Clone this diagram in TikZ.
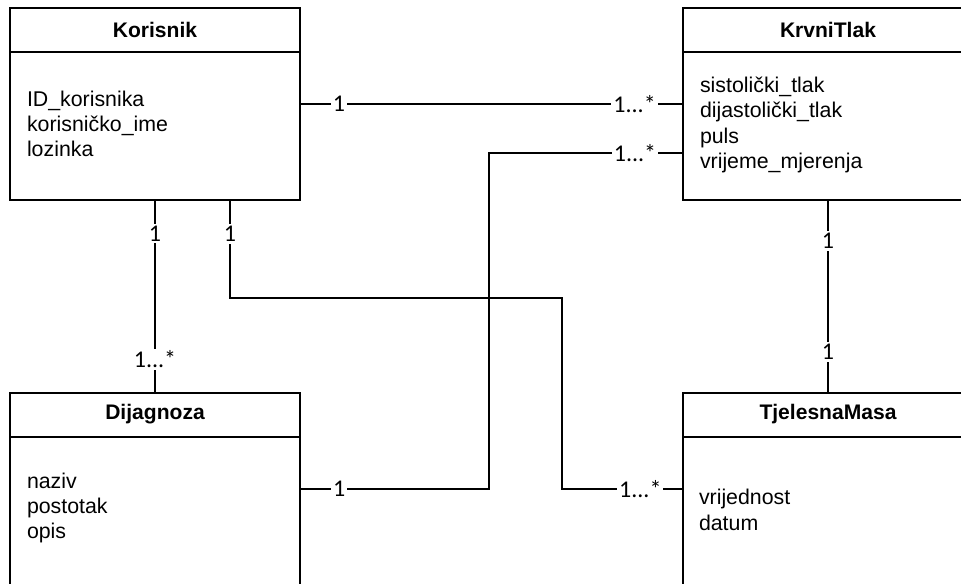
\documentclass[tikz,border=0pt]{standalone}
\usepackage{fontspec}
\setmainfont{Liberation Sans}
\newfontfamily\kardfont{Carlito}
\begin{document}
\begin{tikzpicture}[x=0.75pt,y=-0.75pt,line width=1.5pt,
	klasa/.style={draw,rectangle,minimum width=217pt,minimum height=144pt,inner sep=0pt},
	naslov/.style={font=\fontsize{15.8}{18}\selectfont\bfseries},
	atr/.style={anchor=west,align=left,inner sep=0pt,font=\fontsize{16}{19}\selectfont},
	kard/.style={fill=white,inner sep=1.5pt,font=\kardfont\fontsize{18}{18}\selectfont}]
	\useasboundingbox (0,0) rectangle (961,583);
	\path
	(155,104) 	node[klasa] 	(K) 	{}
	(155,30) 	node[naslov] 	{Korisnik}
	(26,124) 	node[atr] 		{ID\_korisnika\\korisničko\_ime\\lozinka}
	(828,104) 	node[klasa] 	(KT) 	{}
	(828,30) 	node[naslov] 	{KrvniTlak}
	(699,125) 	node[atr] 		{sistolički\_tlak\\dijastolički\_tlak\\puls\\vrijeme\_mjerenja}
	(155,489) 	node[klasa] 	(D) 	{}
	(155,414) 	node[naslov] 	{Dijagnoza}
	(26,508) 	node[atr] 		{naziv\\postotak\\opis}
	(828,489) 	node[klasa] 	(TM) 	{}
	(828,414) 	node[naslov] 	{TjelesnaMasa}
	(698,510) 	node[atr] 		{vrijednost\\datum};
	% zaglavlja
	\foreach \k in {K,KT,D,TM}
	\draw ([yshift=-33.75pt]\k.north west) -- ([yshift=-33.75pt]\k.north east);
	
	\draw (K.east) -- (KT.west) node[kard,pos=.1]{1} node[kard,pos=.875]{1...*};
	\draw ([yshift=-36.75pt]KT.west) -- ++(-193,0) node[kard,pos=.245]{1...*}
	|- (D.east) node[kard,pos=.898]{1};
	\draw (K.south) -- (D.north) node[kard,pos=.17]{1} node[kard,pos=.83]{1...*};
	\draw ([xshift=56.25pt]K.south) -- ++(0,97) node[kard,pos=.34]{1}
	-| ([xshift=-90pt]TM.west) -- (TM.west) node[kard,pos=.65]{1...*};
	\draw (KT.south) -- (TM.north) node[kard,pos=.21]{1} node[kard,pos=.79]{1};
\end{tikzpicture}
\end{document}
